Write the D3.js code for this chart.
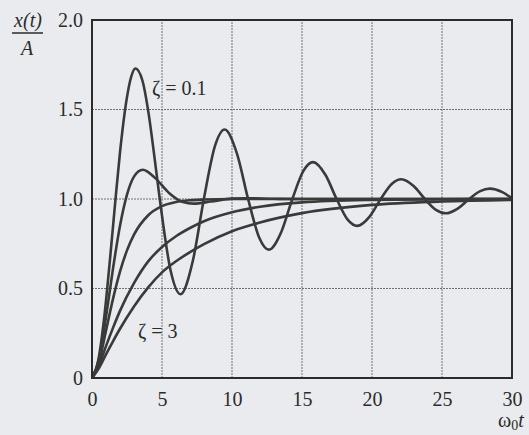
<!DOCTYPE html>
<html>
<head>
<meta charset="utf-8">
<script src="https://cdn.jsdelivr.net/npm/d3@7"></script>
<style>
  html, body { margin: 0; padding: 0; background: #e9ebee; }
  svg { display: block; }
</style>
</head>
<body>
<script>
// size of the page
let width = 529, height = 435

// tick values for the two axes
const xTicks = [0, 5, 10, 15, 20, 25, 30]
const yTicks = [0, 0.5, 1.0, 1.5, 2.0]

// step responses, one array of times and one of values per curve
// zeta = 0.1
const t01 = [0, 0.45, 0.89, 1.3, 1.68, 2.0, 2.47, 2.8, 3.1, 3.6, 4.05, 4.45, 4.84, 5.63, 6.32, 7.2, 7.99, 8.78, 9.47,
  10.36, 11.15, 11.94, 12.63, 13.52, 14.31, 15.1, 15.79, 16.68, 17.47, 18.26, 18.94, 19.83, 20.62,
  21.41, 22.1, 22.99, 23.78, 24.57, 25.26, 26.15, 26.94, 27.73, 28.41, 29.31, 30]
const x01 = [0, 0.10, 0.35, 0.675, 1.0, 1.26, 1.555, 1.683, 1.729, 1.662, 1.474, 1.241, 1.0, 0.595, 0.468, 0.654, 1.0, 1.295, 1.388,
  1.252, 1.0, 0.785, 0.717, 0.816, 1.0, 1.157, 1.206, 1.134, 1.0, 0.885, 0.850, 0.902, 1.0,
  1.084, 1.110, 1.071, 1.0, 0.939, 0.920, 0.948, 1.0, 1.044, 1.058, 1.038, 1.003]

// zeta = 0.5
const t05 = [0, 0.5, 1, 1.5, 2, 2.5, 3, 3.63, 4.5, 5.5, 6.5, 7.26, 8.5, 10, 11, 13, 15, 20, 25, 30]
const x05 = [0, 0.105, 0.340, 0.611, 0.850, 1.024, 1.125, 1.163, 1.118, 1.034, 0.983, 0.974, 0.986, 1.002, 1.004, 1.001, 1.0, 1.0, 1.0, 1.0]

// zeta = 1
const t1 = [0, 0.5, 1, 1.5, 2, 2.5, 3, 4, 5, 6, 7, 8, 10, 15, 20, 25, 30]
const x1 = [0, 0.090, 0.264, 0.442, 0.594, 0.713, 0.801, 0.908, 0.960, 0.983, 0.993, 0.997, 1.0, 1.0, 1.0, 1.0, 1.0]

// zeta = 2 and zeta = 3 share the same times
const tSlow = [0, 0.5, 1, 1.5, 2, 3, 4, 5, 6, 7, 8, 10, 12, 15, 20, 25, 30]
const x2 = [0, 0.070, 0.178, 0.280, 0.375, 0.530, 0.650, 0.732, 0.792, 0.838, 0.876, 0.926, 0.957, 0.981, 0.995, 0.999, 1.0]
const x3 = [0, 0.056, 0.132, 0.205, 0.275, 0.400, 0.505, 0.590, 0.652, 0.703, 0.748, 0.820, 0.869, 0.921, 0.967, 0.986, 0.995]

// pair times and values up for the line generator
let curves = [[t01, x01], [t05, x05], [t1, x1], [tSlow, x2], [tSlow, x3]]
  .map(([ts, xs]) => ts.map((t, i) => [t, xs[i]]))

// plot box
let margin = {left: 92, right: 17, top: 20, bottom: 57}

let x = d3.scaleLinear()
  .domain([0, 30])
  .range([margin.left, width - margin.right])

let y = d3.scaleLinear()
  .domain([0, 2])
  .range([height - margin.bottom, margin.top])

let svg = d3.select("body")
  .append("svg")
  .attr("width", width)
  .attr("height", height)
  .attr("font-family", "'Liberation Serif', 'DejaVu Serif', serif")
  .attr("font-size", 20)
  .attr("fill", "#2b2b2b")

svg.append("rect")
  .attr("width", width)
  .attr("height", height)
  .attr("fill", "#e9ebee")

// dotted grid
svg.append("g")
  .selectAll("line")
  .data(xTicks.slice(1, -1))
  .join("line")
  .attr("x1", d => x(d)).attr("x2", d => x(d))
  .attr("y1", y(0)).attr("y2", y(2))
  .attr("stroke", "#707070")
  .attr("stroke-width", 1)
  .attr("stroke-dasharray", "2,1")

svg.append("g")
  .selectAll("line")
  .data(yTicks.slice(1, -1))
  .join("line")
  .attr("x1", x(0)).attr("x2", x(30))
  .attr("y1", d => y(d)).attr("y2", d => y(d))
  .attr("stroke", "#707070")
  .attr("stroke-width", 1)
  .attr("stroke-dasharray", "2,1")

// axes, only labels, the frame is drawn below
let xAxis = svg.append("g")
  .attr("transform", `translate(0,${y(0)})`)
  .call(d3.axisBottom(x).tickValues(xTicks).tickSize(0).tickPadding(14).tickFormat(d3.format("d")))
xAxis.select(".domain").remove()
xAxis.selectAll("text")
  .attr("font-family", "'Liberation Serif', serif")
  .attr("font-size", 20)
  .attr("fill", "#2b2b2b")

let yAxis = svg.append("g")
  .attr("transform", `translate(${x(0)},0)`)
  .call(d3.axisLeft(y).tickValues(yTicks).tickSize(0).tickPadding(9)
    .tickFormat(d => d === 0 ? "0" : d3.format(".1f")(d)))
yAxis.select(".domain").remove()
yAxis.selectAll("text")
  .attr("font-family", "'Liberation Serif', serif")
  .attr("font-size", 20)
  .attr("fill", "#2b2b2b")

// the curves
let line = d3.line()
  .x(d => x(d[0]))
  .y(d => y(d[1]))
  .curve(d3.curveMonotoneX)

svg.append("g")
  .selectAll("path")
  .data(curves)
  .join("path")
  .attr("d", line)
  .attr("fill", "none")
  .attr("stroke", "#3a3a3a")
  .attr("stroke-width", 2.6)
  .attr("stroke-linejoin", "round")

// frame
svg.append("rect")
  .attr("x", x(0))
  .attr("y", y(2))
  .attr("width", x(30) - x(0))
  .attr("height", y(0) - y(2))
  .attr("fill", "none")
  .attr("stroke", "#2b2b2b")
  .attr("stroke-width", 2)

// curve labels
svg.append("text")
  .attr("x", 152)
  .attr("y", 95)
  .text("ζ = 0.1")

svg.append("text")
  .attr("x", 138)
  .attr("y", 338)
  .text("ζ = 3")

// y title x(t)/A
let yTitle = svg.append("g")
yTitle.append("text")
  .attr("x", 28)
  .attr("y", 27)
  .attr("text-anchor", "middle")
  .attr("font-style", "italic")
  .text("x(t)")
yTitle.append("line")
  .attr("x1", 12).attr("x2", 43)
  .attr("y1", 33).attr("y2", 33)
  .attr("stroke", "#2b2b2b")
  .attr("stroke-width", 1.5)
yTitle.append("text")
  .attr("x", 27)
  .attr("y", 55)
  .attr("text-anchor", "middle")
  .attr("font-style", "italic")
  .text("A")

// x title ω0t
let xTitle = svg.append("text")
  .attr("x", 498)
  .attr("y", 427)
xTitle.append("tspan").text("ω")
xTitle.append("tspan").attr("font-size", 14).attr("dy", 3).text("0")
xTitle.append("tspan").attr("font-style", "italic").attr("dy", -3).text("t")
</script>
</body>
</html>
